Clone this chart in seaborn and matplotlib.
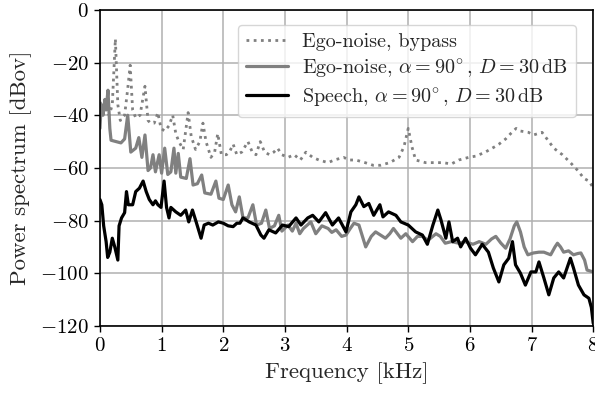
import matplotlib
matplotlib.use("Agg")
import matplotlib.pyplot as plt
import seaborn as sns
import numpy as np

# ---------------- data ----------------
bypass_freq = [0.00, 0.05, 0.10, 0.15, 0.20, 0.25, 0.29, 0.33, 0.40, 0.45, 0.49, 0.53, 0.58, 0.65,
               0.73, 0.78, 0.82, 0.88, 0.94, 0.99, 1.05, 1.12, 1.18, 1.23, 1.28, 1.35, 1.43, 1.48,
               1.55, 1.62, 1.67, 1.72, 1.80, 1.86, 1.91, 1.97, 2.05, 2.10, 2.16, 2.22, 2.30, 2.40,
               2.47, 2.53, 2.60, 2.67, 2.75, 2.82, 2.88, 2.95, 3.05, 3.15, 3.25, 3.34, 3.45, 3.55,
               3.70, 3.80, 3.95, 4.05, 4.15, 4.30, 4.43, 4.55, 4.70, 4.85, 4.93, 5.00, 5.06, 5.12,
               5.28, 5.40, 5.56, 5.70, 5.82, 5.98, 6.10, 6.25, 6.40, 6.47, 6.58, 6.66, 6.75, 6.82,
               6.95, 7.03, 7.10, 7.17, 7.25, 7.36, 7.50, 7.63, 7.75, 7.85, 7.93, 8.00]
bypass_db = [-35, -37, -38, -40, -36, -11, -36, -42, -40, -30, -21, -38, -41, -40,
             -29, -42, -43, -43, -39, -45, -46, -44, -40, -47, -50, -53, -39, -48,
             -53, -50, -43, -50, -56, -54, -47, -55, -55, -54, -51, -55, -54, -50,
             -54, -55, -50, -54, -55, -54, -52.5, -55, -56, -55, -57, -54, -56, -57,
             -58, -57, -56, -57, -57, -58, -59, -59, -58, -56, -52, -45, -52, -57,
             -58, -58, -58, -58.5, -57, -56, -55.5, -54, -52, -51, -49, -47, -45, -46,
             -46.5, -47.5, -47, -46.5, -49, -52.5, -55, -58, -61, -64, -65, -67.5]

ego_freq = [0.00, 0.02, 0.05, 0.08, 0.10, 0.13, 0.16, 0.18, 0.26, 0.34, 0.40, 0.45, 0.50, 0.58,
            0.63, 0.68, 0.73, 0.78, 0.82, 0.86, 0.90, 0.96, 1.00, 1.05, 1.10, 1.15, 1.20, 1.23,
            1.27, 1.31, 1.40, 1.46, 1.51, 1.58, 1.65, 1.70, 1.80, 1.88, 1.93, 2.00, 2.08, 2.14,
            2.20, 2.26, 2.32, 2.40, 2.48, 2.54, 2.62, 2.69, 2.75, 2.83, 2.90, 2.95, 3.05, 3.12,
            3.18, 3.24, 3.30, 3.42, 3.50, 3.60, 3.70, 3.76, 3.83, 3.92, 3.99, 4.06, 4.12, 4.20,
            4.31, 4.40, 4.47, 4.55, 4.63, 4.70, 4.76, 4.88, 4.96, 5.07, 5.15, 5.23, 5.32, 5.45,
            5.52, 5.60, 5.70, 5.82, 5.92, 6.05, 6.15, 6.26, 6.35, 6.42, 6.50, 6.58, 6.65, 6.72,
            6.76, 6.82, 6.88, 6.94, 7.03, 7.12, 7.20, 7.31, 7.38, 7.42, 7.47, 7.52, 7.60, 7.68,
            7.75, 7.80, 7.86, 7.90, 8.00]
ego_db = [-45, -36, -40, -34, -38, -30.5, -45, -49.5, -50, -50.5, -49, -40, -54, -52.5,
          -48.5, -56, -47.5, -61, -60, -55, -61.5, -55, -62, -52.5, -62.5, -61.5, -52.5, -62,
          -54.5, -63.5, -64, -56.5, -66.5, -66, -62.7, -69.5, -70, -65, -71.5, -72, -66.5, -74,
          -76.7, -71, -79, -79, -74, -81.7, -81, -76, -83, -82, -78, -84, -81.7, -84,
          -81, -85, -83, -80.5, -85, -82, -83, -84.5, -83.5, -86, -85.5, -83, -81, -81.7,
          -90, -86, -84.3, -85.5, -86.7, -85, -83, -86.7, -85, -88, -86, -86, -87.5, -85,
          -86, -88.6, -88, -88.6, -88, -89, -88, -89, -87, -86, -88.5, -90.5, -87, -82,
          -80.5, -84.3, -90, -93, -92.3, -92, -92, -93, -90, -88.6, -90, -92, -91.5, -93,
          -92.5, -92.3, -95, -98.8, -99.5]

speech_freq = [0.00, 0.03, 0.06, 0.10, 0.125, 0.16, 0.20, 0.24, 0.29, 0.31, 0.35, 0.40, 0.43,
               0.46, 0.53, 0.58, 0.64, 0.70, 0.75, 0.80, 0.86, 0.90, 0.94, 0.99, 1.04, 1.08,
               1.12, 1.15, 1.23, 1.31, 1.39, 1.44, 1.50, 1.56, 1.64, 1.69, 1.76, 1.83, 1.92,
               2.00, 2.08, 2.16, 2.22, 2.27, 2.32, 2.42, 2.53, 2.61, 2.66, 2.74, 2.85, 2.96,
               3.06, 3.18, 3.26, 3.37, 3.45, 3.55, 3.66, 3.77, 3.87, 3.99, 4.07, 4.15, 4.20,
               4.28, 4.36, 4.44, 4.54, 4.59, 4.68, 4.80, 4.88, 5.00, 5.12, 5.23, 5.31, 5.40,
               5.48, 5.53, 5.61, 5.66, 5.72, 5.80, 5.85, 5.93, 6.01, 6.09, 6.20, 6.30, 6.38,
               6.47, 6.55, 6.63, 6.69, 6.74, 6.82, 6.90, 6.99, 7.07, 7.12, 7.20, 7.28, 7.36,
               7.44, 7.52, 7.63, 7.68, 7.76, 7.85, 7.93, 7.97, 8.00]
speech_db = [-72, -74, -82, -88, -94, -92, -86.7, -90, -95, -82, -79, -77, -69,
             -74, -74, -69, -67.7, -65, -69, -72, -74, -72.5, -74, -75, -65, -75,
             -79, -75, -76.7, -78, -76, -80.5, -76, -80.5, -86.7, -81.7, -81, -81.7, -80.5,
             -81, -82, -82.3, -81, -81, -79, -80.5, -81.7, -85.5, -86.7, -83.5, -84.7, -81.7,
             -82.3, -79, -81.7, -79, -78, -80.5, -77, -81.7, -79, -84.3, -76.7, -74, -71,
             -74.7, -73.5, -78, -74, -78.6, -76.7, -78, -80.5, -81.7, -84.3, -85.5, -89, -81.7,
             -76, -79.7, -86.7, -80.5, -88, -86.7, -90, -86.7, -90.5, -93, -89, -92, -98,
             -103.3, -96.8, -94.3, -88, -96.8, -100, -104.5, -99.5, -99.5, -95.7, -101.8, -108.2, -101.8,
             -99.5, -101.8, -94.3, -98, -104.5, -108.2, -109.5, -113, -119]

labels = ["Ego-noise, bypass",
          r"Ego-noise, $\alpha = 90^{\!\circ}$, $D = 30\,\mathrm{dB}$",
          r"Speech, $\alpha = 90^{\!\circ}$, $D = 30\,\mathrm{dB}$"]
x_ticks = [0, 1, 2, 3, 4, 5, 6, 7, 8]
y_ticks = [0, -20, -40, -60, -80, -100, -120]

# ---------------- style ----------------
sns.set_theme(style="whitegrid")
plt.rcParams.update({
    "font.family": "serif",
    "font.serif": ["cmr10", "DejaVu Serif"],
    "mathtext.fontset": "cm",
    "axes.formatter.use_mathtext": True,
    "axes.unicode_minus": True,
    "axes.edgecolor": "black",
    "axes.linewidth": 1.2,
    "grid.color": "#b0b0b0",
    "grid.linewidth": 1.1,
    "xtick.bottom": True,
    "ytick.left": True,
    "xtick.color": "black",
    "ytick.color": "black",
    "xtick.direction": "out",
    "ytick.direction": "out",
    "xtick.major.size": 4,
    "ytick.major.size": 4,
    "xtick.major.width": 1.0,
    "ytick.major.width": 1.0,
})

fig = plt.figure(figsize=(5.95, 3.96), dpi=100)
ax = fig.add_axes([0.168, 0.177, 0.829, 0.798])

sns.lineplot(x=bypass_freq, y=bypass_db, ax=ax, color="#808080", lw=2.0,
             linestyle=(0, (1, 1.6)), label=labels[0], sort=False)
sns.lineplot(x=ego_freq, y=ego_db, ax=ax, color="#808080", lw=2.3,
             label=labels[1], sort=False)
sns.lineplot(x=speech_freq, y=speech_db, ax=ax, color="black", lw=2.3,
             label=labels[2], sort=False)

ax.set_xlim(0, 8)
ax.set_ylim(-120, 0)
ax.set_xticks(x_ticks)
ax.set_yticks(y_ticks)
ax.tick_params(labelsize=15, pad=4)
ax.set_xlabel("Frequency [kHz]", fontsize=16.5, labelpad=5)
ax.set_ylabel("Power spectrum [dBov]", fontsize=16.5, labelpad=6)
for s in ax.spines.values():
    s.set_color("black")

leg = ax.legend(loc="upper right", fontsize=14.5, frameon=True, fancybox=True,
                framealpha=0.8, edgecolor="#cccccc", handlelength=2.1,
                handletextpad=0.7, borderpad=0.4, labelspacing=0.3,
                bbox_to_anchor=(0.985, 0.985))

fig.savefig("out.png", dpi=100)
